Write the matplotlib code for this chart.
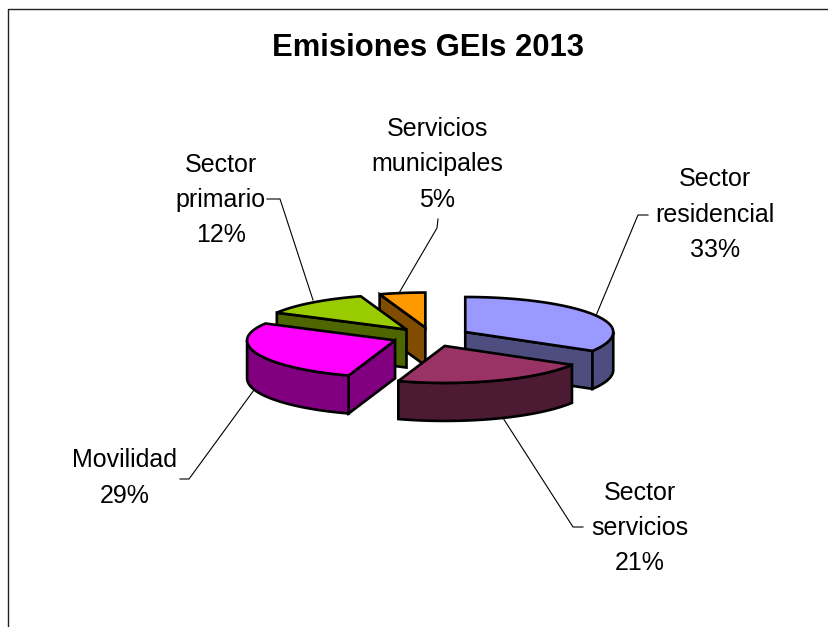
"""Exploded 3D style pie of greenhouse gas emissions by sector."""

import matplotlib
matplotlib.use("Agg")
import matplotlib.pyplot as plt
import numpy as np

# slices, clockwise from twelve o'clock
sectors = ["Sector\nresidencial", "Sector\nservicios", "Movilidad",
           "Sector\nprimario", "Servicios\nmunicipales"]
shares = [33, 21, 29, 12, 5]
top_colors = ["#9999FF", "#993366", "#FF00FF", "#99CC00", "#FF9900"]
side_colors = ["#4D4D80", "#4D1A33", "#800080", "#4D6600", "#804D00"]
title = "Emisiones GEIs 2013"

# pie geometry, in pixels
CX, CY = 431.5, 336.7
RX = 148.0
RY_BACK, RY_FRONT = 35.0, 37.0
DEPTH = 38.0
EXPLODE = 0.265
EDGE = 1.9

# back to front
draw_order = [4, 3, 0, 2, 1]
label_pos = [(715, 214.5), (640, 528), (125, 478), (221, 200), (437.5, 164.5)]
leaders = [
    [(595, 318), (638, 215), (648, 215)],
    [(503, 418), (573, 527), (583, 527)],
    [(254, 390), (189, 479), (180, 479)],
    [(313, 300), (280, 199), (267, 199)],
    [(399, 293), (437, 228), (438, 219)],
]


def project(theta, r=1.0):
    """Angle in degrees on the pie to offset on the tilted disc."""
    theta = np.asarray(theta, dtype=float)
    t = np.radians(theta)
    # the near half leans a little to the left
    t = t + np.radians(4.0) * np.maximum(0.0, -np.cos(t))
    ry = np.where(np.cos(t) > 0, RY_BACK, RY_FRONT)
    return r * RX * np.sin(t), -r * ry * np.cos(t)


def poly(ax, xs, ys, color, z):
    ax.fill(xs, ys, facecolor=color, edgecolor="black", linewidth=EDGE,
            joinstyle="miter", zorder=z)


def draw_face(ax, apex_x, apex_y, ang, side, z):
    dx, dy = project(ang)
    xs = [apex_x, apex_x + dx, apex_x + dx, apex_x]
    ys = [apex_y, apex_y + dy, apex_y + dy + DEPTH, apex_y + DEPTH]
    poly(ax, xs, ys, side, z)


def draw_slice(ax, start, end, top, side, z):
    mid = (start + end) / 2.0
    ox, oy = project(mid, EXPLODE)
    apex_x, apex_y = CX + ox, CY + oy

    # cut faces, skipping the ones turned away
    if np.sin(np.radians(start)) < -1e-6:
        draw_face(ax, apex_x, apex_y, start, side, z)
    if np.sin(np.radians(end)) > 1e-6:
        draw_face(ax, apex_x, apex_y, end, side, z)

    # outer wall, only the part turned to the viewer
    lo, hi = max(start, 90.0), min(end, 270.0)
    if hi > lo:
        th = np.linspace(lo, hi, 60)
        dx, dy = project(th)
        xs = np.concatenate([apex_x + dx, (apex_x + dx)[::-1]])
        ys = np.concatenate([apex_y + dy, (apex_y + dy + DEPTH)[::-1]])
        poly(ax, xs, ys, side, z)

    # top face
    th = np.linspace(start, end, 80)
    dx, dy = project(th)
    xs = np.concatenate([[apex_x], apex_x + dx])
    ys = np.concatenate([[apex_y], apex_y + dy])
    poly(ax, xs, ys, top, z)


plt.rcParams["font.family"] = ["Liberation Sans", "DejaVu Sans"]
fig = plt.figure(figsize=(8.29, 6.27), dpi=100)
ax = fig.add_axes([0, 0, 1, 1])
ax.set_xlim(0, 829)
ax.set_ylim(627, 0)
ax.axis("off")

# chart frame, runs off the right and bottom
ax.plot([8.5, 8.5, 829], [627, 8.5, 8.5], color="#222222", lw=1.0, zorder=1)

ax.text(428, 48, title, fontsize=22.3, fontweight="bold",
        ha="center", va="center")

bounds = np.cumsum([0] + shares) * 360.0 / sum(shares)
for n, i in enumerate(draw_order):
    draw_slice(ax, bounds[i], bounds[i + 1], top_colors[i], side_colors[i],
               3 + n)

for i, name in enumerate(sectors):
    ax.text(label_pos[i][0], label_pos[i][1], f"{name}\n{shares[i]}%",
            fontsize=18, ha="center", va="center", linespacing=1.58)
    xs, ys = zip(*leaders[i])
    ax.plot(xs, ys, color="black", lw=0.8, zorder=2)

fig.savefig("out.png", dpi=100)
